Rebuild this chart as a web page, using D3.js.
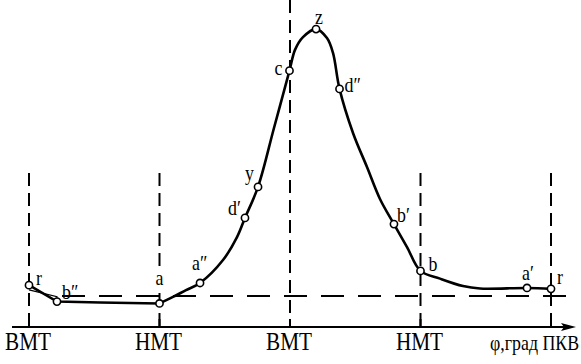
<!DOCTYPE html>
<html>
<head>
<meta charset="utf-8">
<script src="https://cdn.jsdelivr.net/npm/d3@7"></script>
<style>
  body { margin: 0; background: #fff; }
  svg { display: block; }
  text { font-family: "Liberation Serif", "DejaVu Serif", serif; fill: #000; }
</style>
</head>
<body>
<div id="chart"></div>
<script>
// угол поворота коленвала (град ПКВ) и давление (условные единицы, p0 = 1)
var intakeAngle = [0, 38.6, 98, 180]
var intakeP = [1.35, 0.82, 0.79, 0.76]

var curveAngle = [180, 198.6, 216.6, 235.9, 267.6, 286.9, 297.9, 315.9, 337.9, 359.3, 366.9, 377.9, 395.9,
                  411, 419.3, 428.3, 446.9, 466.2, 484.1, 503.4, 521.4, 540, 566.9, 598.6, 622.1, 686.9, 720]
var curveP = [0.76, 0.97, 1.19, 1.42, 2.16, 2.90, 3.52, 4.52, 6.42, 8.27, 8.94, 9.35, 9.61,
              9.32, 8.84, 7.68, 6.26, 5.16, 4.13, 3.32, 2.58, 1.81, 1.56, 1.32, 1.24, 1.26, 1.23]

var pointNames = ["r", "b\u2033", "a", "a\u2033", "d\u2032", "y", "c", "z", "d\u2033", "b\u2032", "b", "a\u2032", "r"]
var pointAngle = [0, 38.6, 180, 235.9, 297.9, 315.9, 359.3, 395.9, 428.3, 503.4, 540, 686.9, 720]
var pointP = [1.35, 0.82, 0.76, 1.42, 3.52, 4.52, 8.27, 9.61, 7.68, 3.32, 1.81, 1.26, 1.23]

var tickAngle = [0, 180, 360, 540, 720]
var tickNames = ["ВМТ", "НМТ", "ВМТ", "НМТ"]
var p0 = 1
var axisTitle = "\u03c6,град ПКВ"

var width = 581
var height = 364

var svg = d3.select('#chart').append('svg').attr('width', width).attr('height', height)

var x = d3.scaleLinear().domain([0, 720]).range([29, 551])
var y = d3.scaleLinear().domain([0, 10]).range([327, 17])

//сжатие шрифта по горизонтали, как в оригинале
function label(px, py, str, size, anchor) {
    return svg.append('text')
        .attr('transform', `translate(${px},${py}) scale(0.85,1)`)
        .attr('text-anchor', anchor || 'start')
        .style('font-size', size + 'px')
        .text(str)
}

// вертикальные штриховые линии ВМТ / НМТ
svg.selectAll('.vline')
    .data(tickAngle)
    .join('line')
    .attr('x1', d => x(d)).attr('x2', d => x(d))
    .attr('y1', d => d === 360 ? 0 : 173)
    .attr('y2', y(0))
    .attr('stroke', '#000')
    .attr('stroke-width', 2)
    .attr('stroke-dasharray', '13 7')

// линия атмосферного давления
svg.append('line')
    .attr('x1', 62).attr('x2', 575)
    .attr('y1', y(p0)).attr('y2', y(p0))
    .attr('stroke', '#000')
    .attr('stroke-width', 2)
    .attr('stroke-dasharray', '23 14')

// ось абсцисс со стрелкой
svg.append('line')
    .attr('x1', 12).attr('x2', 572)
    .attr('y1', y(0)).attr('y2', y(0))
    .attr('stroke', '#000').attr('stroke-width', 2)
svg.append('path')
    .attr('d', `M${576},${y(0)} l-15,-4 l3,4 l-3,4 z`)
    .attr('fill', '#000')

// засечки
svg.selectAll('.tick')
    .data(tickAngle)
    .join('line')
    .attr('x1', d => x(d)).attr('x2', d => x(d))
    .attr('y1', y(0) - 8).attr('y2', y(0) + 1)
    .attr('stroke', '#000').attr('stroke-width', 2)

tickNames.forEach((d, i) => label(x(tickAngle[i]) - 1, 350, d, 25, 'middle'))
label(490, 350, axisTitle, 21, 'start')

// линия впуска
var straight = d3.line().x(d => x(d[0])).y(d => y(d[1]))
svg.append('path')
    .attr('d', straight(d3.zip(intakeAngle, intakeP)))
    .attr('fill', 'none').attr('stroke', '#000').attr('stroke-width', 2.6)
svg.append('path')
    .attr('d', straight([[0, 1.2], [38.6, 0.98], [38.6, 0.82]]))
    .attr('fill', 'none').attr('stroke', '#000').attr('stroke-width', 1.2)

// сжатие, сгорание, расширение, выпуск
var smooth = d3.line().x(d => x(d[0])).y(d => y(d[1])).curve(d3.curveCatmullRom.alpha(0.5))
svg.append('path')
    .attr('d', smooth(d3.zip(curveAngle, curveP)))
    .attr('fill', 'none').attr('stroke', '#000').attr('stroke-width', 2.6)

// характерные точки
var pts = d3.zip(pointAngle, pointP, pointNames)
svg.selectAll('.pt')
    .data(pts)
    .join('circle')
    .attr('cx', d => x(d[0])).attr('cy', d => y(d[1]))
    .attr('r', 3.6)
    .attr('fill', '#fff').attr('stroke', '#000').attr('stroke-width', 1.6)

var offs = [[7, 0], [5, -3], [0, -18], [-8, -13], [-17, -3], [-13, -7], [-15, 4],
            [-1, -5], [5, 3], [3, -2], [8, 0], [-5, -8], [6, -5]]
pts.forEach((d, i) => {
    var t = label(x(d[0]) + offs[i][0], y(d[1]) + offs[i][1], d[2], 21, i === 2 ? 'middle' : 'start')
    // подпись "a" разрывает штриховую линию
    if (i === 2) t.style('stroke', '#fff').style('stroke-width', 6).style('paint-order', 'stroke')
})
</script>
</body>
</html>
